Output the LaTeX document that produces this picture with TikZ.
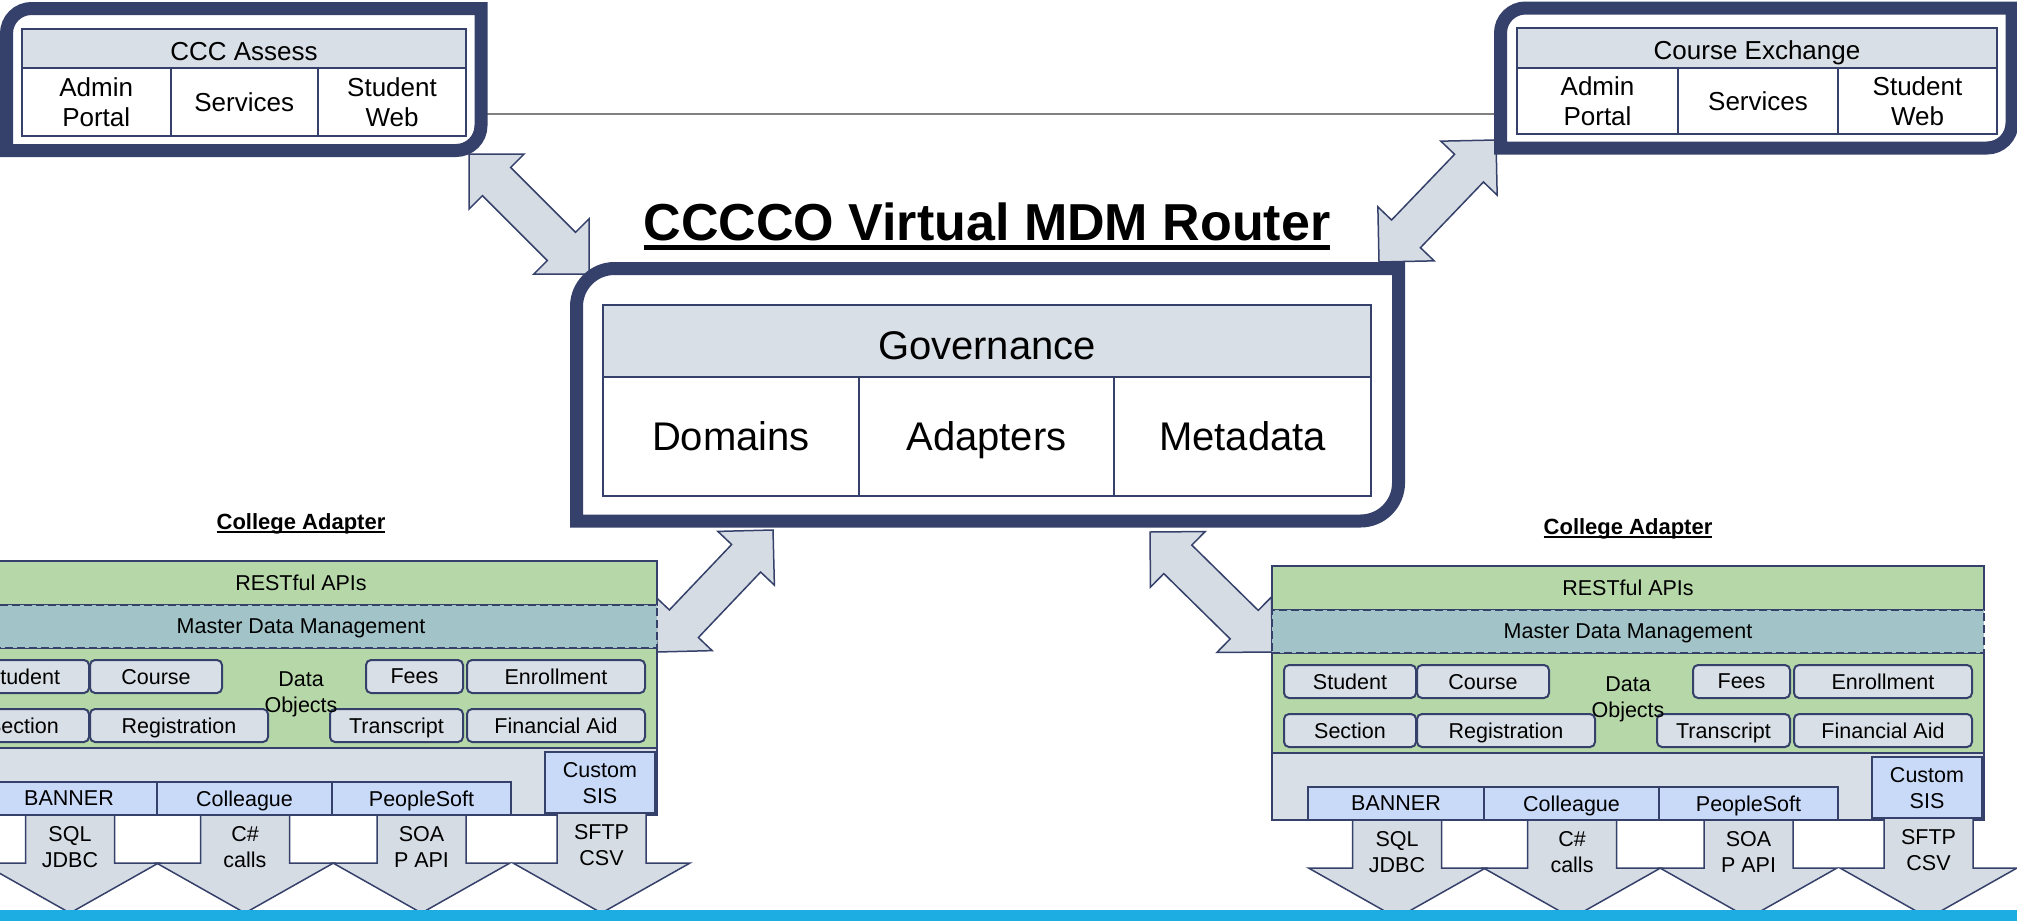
\documentclass[tikz,border=0pt]{standalone}
\usepackage{fontspec}
\setmainfont{Liberation Sans}
\usetikzlibrary{calc}
\definecolor{navy}{HTML}{35416B}
\definecolor{hdr}{HTML}{D9DFE6}
\definecolor{grn}{HTML}{B6D7A8}
\definecolor{mdmteal}{HTML}{A2C4C9}
\definecolor{lblue}{HTML}{C9DAF8}
\definecolor{barblue}{HTML}{1DADE3}
\definecolor{arrfill}{HTML}{D6DCE4}
\definecolor{linegray}{HTML}{808080}

\newcommand\ulbox[3]{\setbox0=\hbox{#1}\rlap{\vrule width\wd0 height -#2 depth \dimexpr #2+#3\relax}\box0}
\newcommand\cellnode[7]{\node[cell,#6,minimum width={(#4)-(#2)},minimum height={(#5)-(#3)}] (#1) at ({((#2)+(#4))/2},{((#3)+(#5))/2}) {#7};}
\newcommand\diagframe[5]{\draw[frame] (#1,#4) -- (#1,{#2+#5}) arc[start angle=180,end angle=90,radius=#5pt] -- (#3,#2) -- (#3,{#4-#5}) arc[start angle=0,end angle=-90,radius=#5pt] -- cycle;}
\newcommand\dblarrow[3]{%
 \coordinate (#1ha) at ($(#2)!39pt!(#3)$);
 \coordinate (#1hb) at ($(#3)!39pt!(#2)$);
 \draw[blockarrow] (#2) -- ($(#1ha)!39pt!90:(#2)$) -- ($(#1ha)!20pt!90:(#2)$) -- ($(#1hb)!20pt!-90:(#3)$) -- ($(#1hb)!39pt!-90:(#3)$) -- (#3) -- ($(#1hb)!39pt!90:(#3)$) -- ($(#1hb)!20pt!90:(#3)$) -- ($(#1ha)!20pt!-90:(#2)$) -- ($(#1ha)!39pt!-90:(#2)$) -- cycle;}
\newcommand\sisarrow[2]{%
 \draw[blockarrow] ({#1-44.5},#2) -- ({#1-44.5},302) -- ({#1-88.5},302) -- (#1,352) -- ({#1+88.5},302) -- ({#1+44.5},302) -- ({#1+44.5},#2) -- cycle;}
\newcommand\adapter[3]{%
\begin{scope}[shift={(#2,#3)}]
 \node[anchor=base,font=\fontsize{22}{26}\selectfont\bfseries,inner sep=0pt] (#1lbl) at (356,-32) {\ulbox{College Adapter}{2pt}{2.2pt}};
 \cellnode{#1rest}{0}{0}{712}{44}{tSm,fill=grn}{RESTful APIs}
 \cellnode{#1data}{0}{87}{712}{187}{fill=grn}{}
 \cellnode{#1base}{0}{187}{712}{254}{fill=hdr}{}
 \cellnode{#1mdm}{0}{44}{712}{87}{tSm,fill=mdmteal,dash pattern=on 8pt off 4pt}{Master Data Management}
 \cellnode{#1stu}{12}{99}{144}{132}{objbox}{Student}
 \cellnode{#1crs}{145}{99}{277}{132}{objbox}{Course}
 \cellnode{#1fee}{421}{99}{518}{132}{objbox}{Fees}
 \cellnode{#1enr}{522}{99}{700}{132}{objbox}{Enrollment}
 \cellnode{#1sec}{12}{148}{144}{181}{objbox}{Section}
 \cellnode{#1reg}{145}{148}{323}{181}{objbox}{Registration}
 \cellnode{#1trn}{385}{148}{518}{181}{objbox}{Transcript}
 \cellnode{#1fin}{522}{148}{700}{181}{objbox}{Financial Aid}
 \node[tSm,align=center,inner sep=0pt,text depth=0pt] (#1obj) at (356,131.5) {Data\\Objects};
 \cellnode{#1ban}{36}{221}{212}{254}{tSm,fill=lblue}{BANNER}
 \cellnode{#1col}{212}{221}{387}{254}{tSm,fill=lblue}{Colleague}
 \cellnode{#1pso}{387}{221}{566}{254}{tSm,fill=lblue}{PeopleSoft}
 \cellnode{#1cus}{600}{191}{710}{252}{tSm,fill=lblue}{Custom\\SIS}
 \sisarrow{125}{254}
 \sisarrow{300}{254}
 \sisarrow{476.5}{254}
 \sisarrow{656.5}{252}
 \node[tSm,align=center,inner sep=0pt,text depth=0pt] (#1t1) at (125,286) {SQL\\JDBC};
 \node[tSm,align=center,inner sep=0pt,text depth=0pt] (#1t2) at (300,286) {C\#\\calls};
 \node[tSm,align=center,inner sep=0pt,text depth=0pt] (#1t3) at (476.5,286) {SOA\\P API};
 \node[tSm,align=center,inner sep=0pt,text depth=0pt] (#1t4) at (656.5,283.5) {SFTP\\CSV};
\end{scope}}

\begin{document}
\begin{tikzpicture}[x=1pt,y=-1pt,
  cell/.style={draw=navy,line width=2pt,inner sep=0pt,align=center,text depth=0pt},
  frame/.style={draw=navy,line width=13pt,fill=white},
  blockarrow/.style={draw=navy,line width=1.5pt,fill=arrfill,line join=miter},
  tBig/.style={font=\fontsize{40}{46}\selectfont},
  tMid/.style={font=\fontsize{26}{30}\selectfont},
  tSm/.style={font=\fontsize{21.5}{26}\selectfont},
  objbox/.style={tSm,fill=hdr,rounded corners=5pt},
]
\useasboundingbox (0,0) rectangle (2017,921);
\clip (0,0) rectangle (2017,921);
\fill[white] (0,0) rectangle (2017,921);
% connectors
\coordinate (lnA) at (487,114);
\coordinate (lnB) at (1494,114);
\draw[linegray,line width=2pt] (lnA) -- (lnB);
\coordinate (a1s) at (469,154);  \coordinate (a1e) at (589,274);
\coordinate (a2s) at (1496,140); \coordinate (a2e) at (1379,262);
\coordinate (a3s) at (773,530);  \coordinate (a3e) at (657,652);
\coordinate (a4s) at (1150,532); \coordinate (a4e) at (1272,652);
\dblarrow{ar1}{a1s}{a1e}
\dblarrow{ar2}{a2s}{a2e}
\dblarrow{ar3}{a3s}{a3e}
\dblarrow{ar4}{a4s}{a4e}
% frames
\diagframe{6.5}{8.5}{481}{150.5}{25}
\diagframe{1500.5}{8}{2012}{148}{25}
\diagframe{576.5}{268.5}{1398.5}{521}{38}
% CCC Assess
\cellnode{ccchdr}{22}{29}{466}{68}{tMid,fill=hdr,text height=23.7pt}{CCC Assess}
\cellnode{cccadm}{22}{68}{170.5}{136}{tMid,fill=white}{Admin\\Portal}
\cellnode{cccsrv}{170.5}{68}{318}{136}{tMid,fill=white}{Services}
\cellnode{cccstu}{318}{68}{466}{136}{tMid,fill=white}{Student\\Web}
% Course Exchange
\cellnode{cxhdr}{1517}{28}{1997}{68}{tMid,fill=hdr,text height=23.7pt}{Course Exchange}
\cellnode{cxadm}{1517}{68}{1678}{134}{tMid,fill=white}{Admin\\Portal}
\cellnode{cxsrv}{1678}{68}{1838}{134}{tMid,fill=white}{Services}
\cellnode{cxstu}{1838}{68}{1997}{134}{tMid,fill=white}{Student\\Web}
% Router
\cellnode{gov}{603}{305}{1371}{377}{tBig,fill=hdr,line width=2.5pt,text height=36.8pt}{Governance}
\cellnode{dom}{603}{377}{859}{496}{tBig,fill=white,line width=2.5pt}{Domains}
\cellnode{adp}{859}{377}{1114}{496}{tBig,fill=white,line width=2.5pt}{Adapters}
\cellnode{meta}{1114}{377}{1371}{496}{tBig,fill=white,line width=2.5pt}{Metadata}
% title
\node[anchor=base,font=\fontsize{52}{60}\selectfont\bfseries,inner sep=0pt] (title) at (987,240) {\ulbox{CCCCO Virtual MDM Router}{5pt}{5pt}};
% adapters
\adapter{L}{-55}{561}
\adapter{R}{1272}{566}
% bottom bar
\fill[barblue] (0,910) rectangle (2017,921);
\end{tikzpicture}
\end{document}
